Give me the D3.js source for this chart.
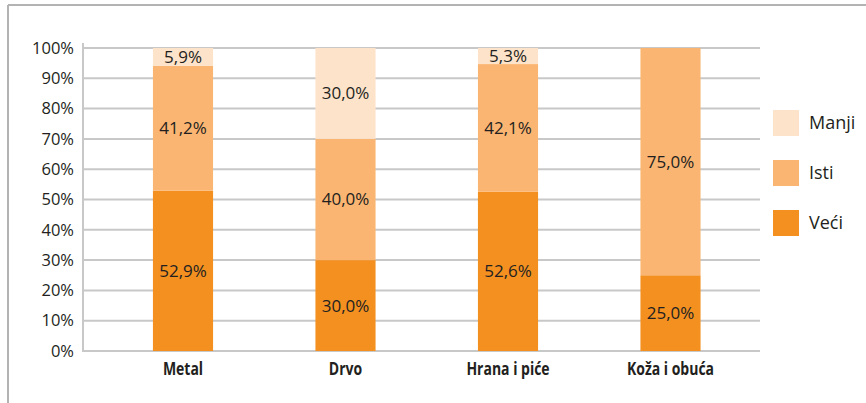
<!DOCTYPE html>
<html>
<head>
<meta charset="utf-8">
<script src="https://cdn.jsdelivr.net/npm/d3@7"></script>
<style>
	html, body {margin: 0; padding: 0; background: #fff;}
	svg {display: block;}
</style>
</head>
<body>
<svg id="chart" width="866" height="403"></svg>
<script>
const categories = ['Metal', 'Drvo', 'Hrana i piće', 'Koža i obuća'];
const series = ['Veći', 'Isti', 'Manji'];
const veci = [52.9, 30.0, 52.6, 25.0];
const isti = [41.2, 40.0, 42.1, 75.0];
const manji = [5.9, 30.0, 5.3, 0];
const tickValues = [0, 10, 20, 30, 40, 50, 60, 70, 80, 90, 100];

const colors = {'Veći': '#f39020', 'Isti': '#fbb572', 'Manji': '#fde3c9'};

const rows = categories.map((c, i) => ({category: c, 'Veći': veci[i], 'Isti': isti[i], 'Manji': manji[i]}));

const fmt = v => d3.format('.1f')(v).replace('.', ',') + '%';

const svg = d3.select('#chart');

// frame: only top and left edges
svg.append('line')
	.attr('x1', 8).attr('x2', 866).attr('y1', 5).attr('y2', 5)
	.attr('stroke', '#b3b3b3').attr('stroke-width', 2);
svg.append('line')
	.attr('x1', 8).attr('x2', 8).attr('y1', 5).attr('y2', 403)
	.attr('stroke', '#b3b3b3').attr('stroke-width', 2);

const gridLeft = 83,
	gridRight = 760,
	y = d3.scaleLinear().domain([0, 100]).range([351, 48]),
	x = d3.scaleBand().domain(categories).range([101.75, 751.75]).paddingInner(0.63).paddingOuter(0.315);

// gridlines
svg.append('g')
	.selectAll('line')
	.data(tickValues)
	.join('line')
	.attr('x1', gridLeft)
	.attr('x2', gridRight)
	.attr('y1', d => y(d))
	.attr('y2', d => y(d))
	.attr('stroke', '#c8c8c8')
	.attr('stroke-width', 2);

// y axis
const yAxis = svg.append('g')
	.attr('transform', `translate(${gridLeft},0)`)
	.call(d3.axisLeft(y).tickValues(tickValues).tickSize(0).tickPadding(9).tickFormat(d => d + '%'));
yAxis.select('.domain').remove();
yAxis.selectAll('text')
	.attr('fill', '#231f20')
	.style('font-family', '"Open Sans", sans-serif')
	.style('font-size', '16.5px');
svg.append('line')
	.attr('x1', gridLeft).attr('x2', gridLeft)
	.attr('y1', 43).attr('y2', 352)
	.attr('stroke', '#c8c8c8').attr('stroke-width', 2);

// stacked bars
const stacked = d3.stack().keys(series)(rows);

const layers = svg.append('g')
	.selectAll('g')
	.data(stacked)
	.join('g')
	.attr('fill', d => colors[d.key]);

layers.selectAll('rect')
	.data(d => d)
	.join('rect')
	.attr('x', d => x(d.data.category))
	.attr('width', x.bandwidth())
	.attr('y', d => y(d[1]))
	.attr('height', d => y(d[0]) - y(d[1]));

// value labels
svg.append('g')
	.selectAll('g')
	.data(stacked)
	.join('g')
	.selectAll('text')
	.data(d => d.filter(s => s[1] - s[0] > 0))
	.join('text')
	.attr('x', d => x(d.data.category) + x.bandwidth() / 2)
	.attr('y', d => (y(d[0]) + y(d[1])) / 2)
	.attr('dy', '0.35em')
	.attr('text-anchor', 'middle')
	.attr('fill', '#231f20')
	.style('font-family', '"Open Sans", sans-serif')
	.style('font-size', '17px')
	.text(d => fmt(d[1] - d[0]));

// category labels (condensed bold, squeezed horizontally)
svg.append('g')
	.selectAll('text')
	.data(categories)
	.join('text')
	.attr('transform', d => `translate(${x(d) + x.bandwidth() / 2},375) scale(0.8,1)`)
	.attr('text-anchor', 'middle')
	.attr('fill', '#231f20')
	.style('font-family', '"Open Sans", sans-serif')
	.style('font-weight', 'bold')
	.style('font-size', '17.5px')
	.text(d => d);

// legend
const legendOrder = ['Manji', 'Isti', 'Veći'];
const legend = svg.append('g')
	.selectAll('g')
	.data(legendOrder)
	.join('g')
	.attr('transform', (_, i) => `translate(773,${110 + i * 50})`);

legend.append('rect')
	.attr('width', 26)
	.attr('height', 26)
	.attr('fill', d => colors[d]);

legend.append('text')
	.attr('x', 36)
	.attr('y', 13)
	.attr('dy', '0.35em')
	.attr('fill', '#231f20')
	.style('font-family', '"Open Sans", sans-serif')
	.style('font-size', '18px')
	.text(d => d);
</script>
</body>
</html>
